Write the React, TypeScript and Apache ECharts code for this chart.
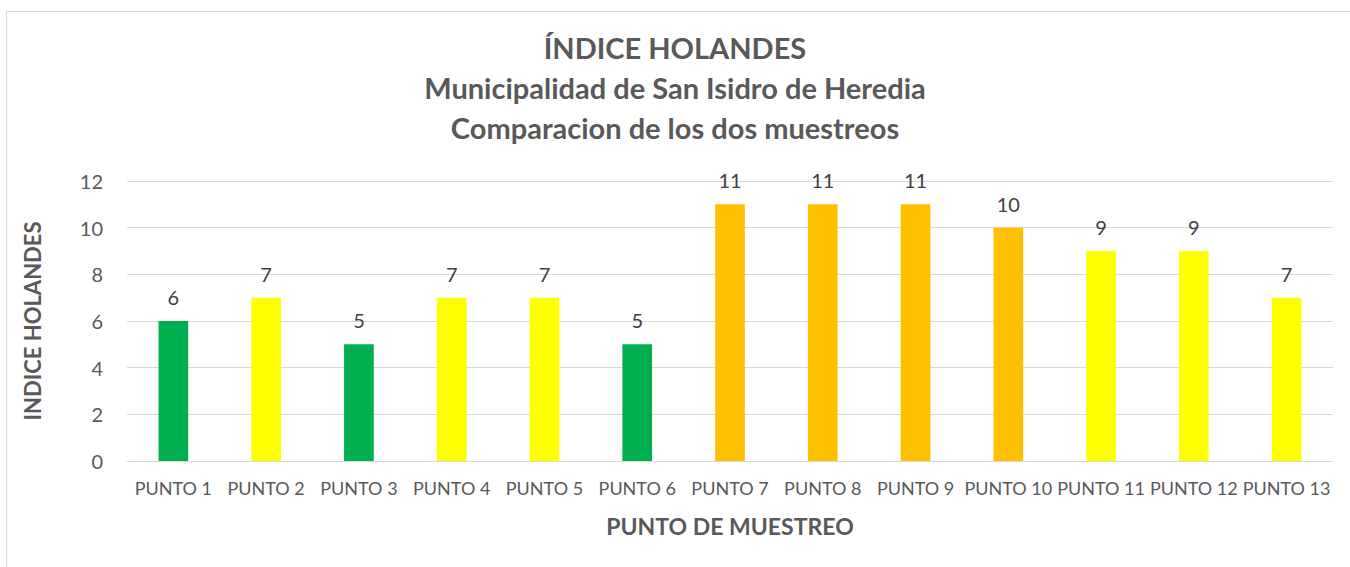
import React, { useEffect, useRef } from "react";
import * as echarts from "echarts";

const categories = ["PUNTO 1", "PUNTO 2", "PUNTO 3", "PUNTO 4", "PUNTO 5", "PUNTO 6", "PUNTO 7", "PUNTO 8", "PUNTO 9", "PUNTO 10", "PUNTO 11", "PUNTO 12", "PUNTO 13"];
const values = [6, 7, 5, 7, 7, 5, 11, 11, 11, 10, 9, 9, 7];
const barColors = ["#00B050", "#FFFF00", "#00B050", "#FFFF00", "#FFFF00", "#00B050", "#FFC000", "#FFC000", "#FFC000", "#FFC000", "#FFFF00", "#FFFF00", "#FFFF00"];
const titleLines = ["ÍNDICE HOLANDES", "Municipalidad de San Isidro de Heredia", "Comparacion de los dos muestreos"];

const FONT = "Lato";

export default function App() {
  const ref = useRef<HTMLDivElement>(null);
  useEffect(() => {
    if (!ref.current) return;
    const chart = echarts.init(ref.current, undefined, { renderer: "svg" });
    chart.setOption({
      animation: false,
      backgroundColor: "#ffffff",
      textStyle: { fontFamily: FONT },
      title: {
        text: titleLines.join("\n"),
        left: "center",
        top: 22,
        textStyle: { fontFamily: FONT, fontSize: 29, fontWeight: "bold", color: "#595959", lineHeight: 40 },
      },
      graphic: [
        {
          type: "rect",
          shape: { x: 6.5, y: 11.5, width: 1400, height: 700 },
          style: { fill: "none", stroke: "#d9d9d9", lineWidth: 1 },
          silent: true,
        },
      ],
      grid: { left: 127, right: 17, top: 181, bottom: 106 },
      xAxis: {
        type: "category",
        data: categories,
        name: "PUNTO DE MUESTREO",
        nameLocation: "middle",
        nameGap: 53,
        nameTextStyle: { fontFamily: FONT, fontSize: 23, fontWeight: "bold", color: "#595959" },
        axisLine: { lineStyle: { color: "#d9d9d9", width: 1 } },
        axisTick: { show: false },
        axisLabel: { fontFamily: FONT, fontSize: 18, color: "#595959", margin: 18, interval: 0 },
      },
      yAxis: {
        type: "value",
        min: 0,
        max: 12,
        interval: 2,
        name: "INDICE HOLANDES",
        nameLocation: "middle",
        nameGap: 84,
        nameTextStyle: { fontFamily: FONT, fontSize: 22, fontWeight: "bold", color: "#595959" },
        axisLine: { show: false },
        axisTick: { show: false },
        axisLabel: { fontFamily: FONT, fontSize: 20, color: "#595959", margin: 24 },
        splitLine: { lineStyle: { color: "#d9d9d9", width: 1 } },
      },
      series: [
        {
          type: "bar",
          data: values.map((v, i) => ({ value: v, itemStyle: { color: barColors[i] } })),
          barWidth: "32%",
          label: {
            show: true,
            position: "top",
            distance: 14,
            fontFamily: FONT,
            fontSize: 20,
            color: "#404040",
          },
        },
      ],
    });
    return () => chart.dispose();
  }, []);
  return <div ref={ref} style={{ position: "absolute", left: 0, top: 0, width: 1350, height: 567 }} />;
}
